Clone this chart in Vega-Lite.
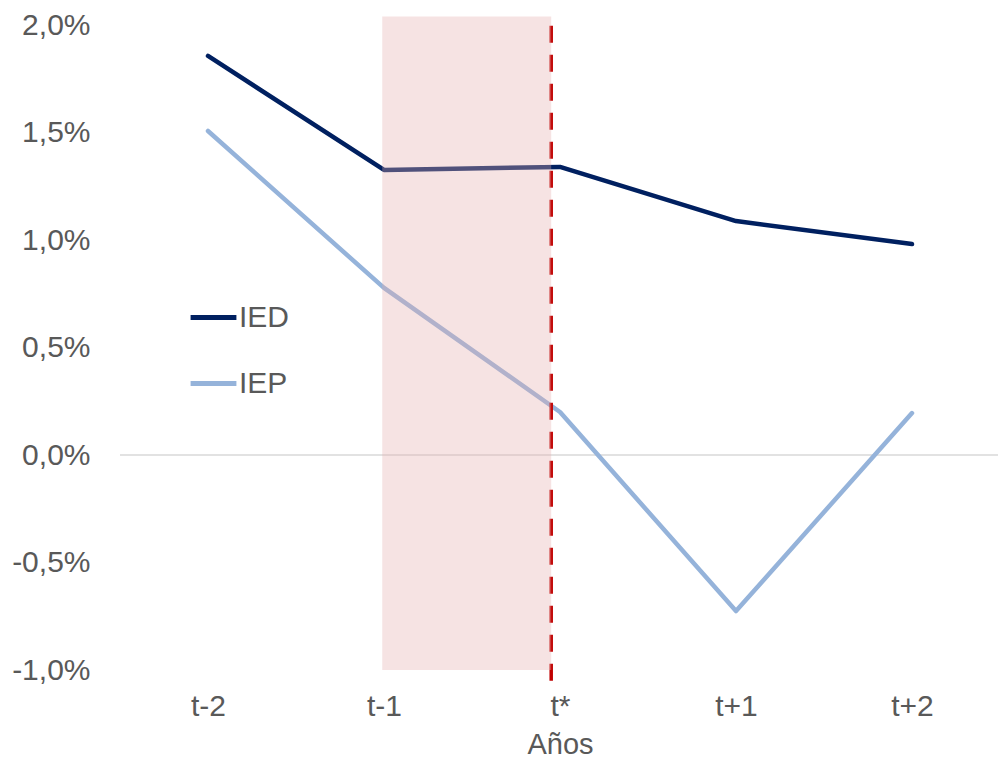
{
  "$schema": "https://vega.github.io/schema/vega-lite/v6.json",
  "autosize": "none",
  "width": 880,
  "height": 645,
  "padding": {"left": 120, "top": 25, "right": 0, "bottom": 90},
  "background": "white",
  "config": {
    "view": {"stroke": null},
    "font": "Liberation Sans",
    "axis": {"labelFont": "Liberation Sans", "titleFont": "Liberation Sans", "labelColor": "#595959", "titleColor": "#595959", "grid": false, "domain": false, "ticks": false}
  },
  "layer": [
    {
      "data": {"values": [{"cero": 0}]},
      "mark": {"type": "rule", "color": "#D9D9D9", "strokeWidth": 1.5},
      "encoding": {"y": {"field": "cero", "type": "quantitative"}}
    },
    {
      "data": {
        "values": [
          {"pos": 0, "periodo": "t-2", "serie": "IED", "valor": 1.856},
          {"pos": 1, "periodo": "t-1", "serie": "IED", "valor": 1.326},
          {"pos": 2, "periodo": "t*", "serie": "IED", "valor": 1.340},
          {"pos": 3, "periodo": "t+1", "serie": "IED", "valor": 1.088},
          {"pos": 4, "periodo": "t+2", "serie": "IED", "valor": 0.981},
          {"pos": 0, "periodo": "t-2", "serie": "IEP", "valor": 1.507},
          {"pos": 1, "periodo": "t-1", "serie": "IEP", "valor": 0.777},
          {"pos": 2, "periodo": "t*", "serie": "IEP", "valor": 0.200},
          {"pos": 3, "periodo": "t+1", "serie": "IEP", "valor": -0.726},
          {"pos": 4, "periodo": "t+2", "serie": "IEP", "valor": 0.195}
        ]
      },
      "mark": {"type": "line", "strokeWidth": 4.5, "strokeCap": "round", "strokeJoin": "round"},
      "encoding": {
        "x": {
          "field": "pos",
          "type": "quantitative",
          "scale": {"domain": [-0.5, 4.5], "nice": false, "zero": false},
          "axis": {
            "title": "Años",
            "values": [0, 1, 2, 3, 4],
            "labelExpr": "['t-2','t-1','t*','t+1','t+2'][datum.value]",
            "labelFontSize": 30,
            "labelPadding": 21,
            "titleFontSize": 29,
            "titleFontWeight": "normal",
            "titlePadding": 9
          }
        },
        "y": {
          "field": "valor",
          "type": "quantitative",
          "scale": {"domain": [-1, 2], "nice": false, "zero": false},
          "axis": {
            "title": null,
            "values": [-1, -0.5, 0, 0.5, 1, 1.5, 2],
            "labelExpr": "replace(replace(format(datum.value, '.1f'), '.', ','), '\u2212', '-') + '%'",
            "labelFontSize": 30,
            "labelPadding": 30
          }
        },
        "color": {
          "field": "serie",
          "type": "nominal",
          "scale": {"domain": ["IED", "IEP"], "range": ["#002060", "#95B3DA"]},
          "legend": {
            "title": null,
            "orient": "none",
            "legendX": 68,
            "legendY": 267,
            "symbolType": "stroke",
            "symbolStrokeWidth": 5,
            "symbolSize": 2100,
            "labelFontSize": 30,
            "labelFont": "Liberation Sans",
            "labelColor": "#595959",
            "labelOffset": 0,
            "rowPadding": 25
          }
        }
      }
    },
    {
      "data": {"values": [{"pos": 1.95, "valor": -1.05, "valor2": 2.04}]},
      "mark": {"type": "rule", "color": "#C00000", "strokeWidth": 3.5, "strokeDash": [17, 12]},
      "encoding": {
        "x": {"field": "pos", "type": "quantitative"},
        "y": {"field": "valor", "type": "quantitative"},
        "y2": {"field": "valor2"}
      }
    },
    {
      "data": {"values": [{"pos": 0.99, "pos2": 1.95, "valor": -1.0, "valor2": 2.04}]},
      "mark": {"type": "rect", "color": "#E6B0B0", "opacity": 0.35},
      "encoding": {
        "x": {"field": "pos", "type": "quantitative"},
        "x2": {"field": "pos2"},
        "y": {"field": "valor", "type": "quantitative"},
        "y2": {"field": "valor2"}
      }
    }
  ]
}
